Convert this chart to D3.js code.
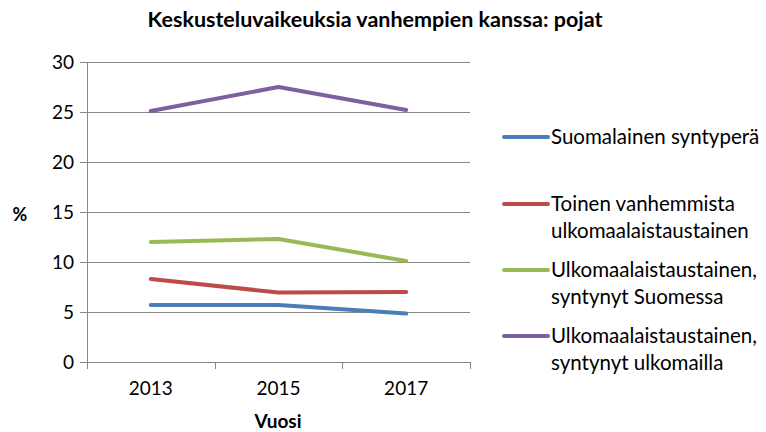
<!DOCTYPE html>
<html>
<head>
<meta charset="utf-8">
<script src="https://cdn.jsdelivr.net/npm/d3@7"></script>
<style>
body { margin: 0; background: #fff; }
text { font-family: Lato, "Open Sans", sans-serif; fill: #000; }
</style>
</head>
<body>
<script>
/* Data */
var years = ["2013", "2015", "2017"],
	seriesNames = [
		["Suomalainen syntyperä"],
		["Toinen vanhemmista", "ulkomaalaistaustainen"],
		["Ulkomaalaistaustainen,", "syntynyt Suomessa"],
		["Ulkomaalaistaustainen,", "syntynyt ulkomailla"]
	],
	suomalainen = [5.7, 5.7, 4.85],
	toinen = [8.3, 6.95, 7.0],
	syntynytSuomessa = [12.0, 12.3, 10.1],
	syntynytUlkomailla = [25.1, 27.5, 25.2],
	yTicks = [0, 5, 10, 15, 20, 25, 30],
	colors = ["#4a7ebb", "#be4b48", "#98b954", "#7d60a0"];

var allSeries = [suomalainen, toinen, syntynytSuomessa, syntynytUlkomailla];

/* Display setup */
var width = 766, height = 432,
	plot = {left: 87, right: 470, top: 62, bottom: 362},
	svg = d3.select("body").append("svg")
		.attr("width", width)
		.attr("height", height);

var x = d3.scaleBand().domain(years).range([plot.left, plot.right]),
	y = d3.scaleLinear().domain([0, 30]).range([plot.bottom, plot.top]);

// gridlines
svg.append("g")
	.selectAll("line")
	.data(yTicks)
	.enter().append("line")
		.attr("x1", plot.left - 7)
		.attr("x2", plot.right)
		.attr("y1", function(d) { return y(d) + 0.5; })
		.attr("y2", function(d) { return y(d) + 0.5; })
		.style("stroke", "#878787")
		.style("stroke-width", 1);

// y axis line
svg.append("line")
	.attr("x1", plot.left + 0.5).attr("x2", plot.left + 0.5)
	.attr("y1", plot.top).attr("y2", plot.bottom + 1)
	.style("stroke", "#878787");

// x tick marks at band boundaries
var bounds = years.map(function(d) { return x(d); }).concat([plot.right]);
svg.append("g")
	.selectAll("line")
	.data(bounds)
	.enter().append("line")
		.attr("x1", function(d) { return Math.round(d) + 0.5; })
		.attr("x2", function(d) { return Math.round(d) + 0.5; })
		.attr("y1", plot.bottom)
		.attr("y2", plot.bottom + 7)
		.style("stroke", "#878787");

// y tick labels
svg.append("g")
	.selectAll("text")
	.data(yTicks)
	.enter().append("text")
		.attr("x", plot.left - 13)
		.attr("y", function(d) { return y(d) + 6.5; })
		.attr("text-anchor", "end")
		.style("font-size", "19px")
		.text(function(d) { return d; });

// x tick labels
svg.append("g")
	.selectAll("text")
	.data(years)
	.enter().append("text")
		.attr("x", function(d) { return x(d) + x.bandwidth() / 2; })
		.attr("y", 395)
		.attr("text-anchor", "middle")
		.style("font-size", "19px")
		.text(function(d) { return d; });

// lines
var line = d3.line()
	.x(function(d, i) { return x(years[i]) + x.bandwidth() / 2; })
	.y(function(d) { return y(d); });

svg.append("g")
	.selectAll("path")
	.data(allSeries)
	.enter().append("path")
		.attr("d", line)
		.style("fill", "none")
		.style("stroke", function(d, i) { return colors[i]; })
		.style("stroke-width", 4)
		.style("stroke-linecap", "round")
		.style("stroke-linejoin", "round");

// titles
svg.append("text")
	.attr("x", 375).attr("y", 27)
	.attr("text-anchor", "middle")
	.style("font-size", "21.5px")
	.style("font-weight", "bold")
	.text("Keskusteluvaikeuksia vanhempien kanssa: pojat");

svg.append("text")
	.attr("x", 20).attr("y", 221)
	.attr("text-anchor", "middle")
	.style("font-size", "18px")
	.style("font-weight", "bold")
	.text("%");

svg.append("text")
	.attr("x", 278).attr("y", 428)
	.attr("text-anchor", "middle")
	.style("font-size", "19px")
	.style("font-weight", "bold")
	.text("Vuosi");

// legend
var legendY = [137, 204, 270, 336];
var legend = svg.append("g")
	.selectAll("g")
	.data(seriesNames)
	.enter().append("g")
		.attr("transform", function(d, i) { return "translate(504," + legendY[i] + ")"; });

legend.append("line")
	.attr("x1", 0).attr("x2", 44)
	.style("stroke", function(d, i) { return colors[i]; })
	.style("stroke-width", 4)
	.style("stroke-linecap", "round");

legend.append("text")
	.attr("x", 47)
	.attr("y", 7)
	.style("font-size", "20.5px")
	.selectAll("tspan")
	.data(function(d) { return d; })
	.enter().append("tspan")
		.attr("x", 47)
		.attr("dy", function(d, i) { return i ? 27 : 0; })
		.text(function(d) { return d; });
</script>
</body>
</html>
